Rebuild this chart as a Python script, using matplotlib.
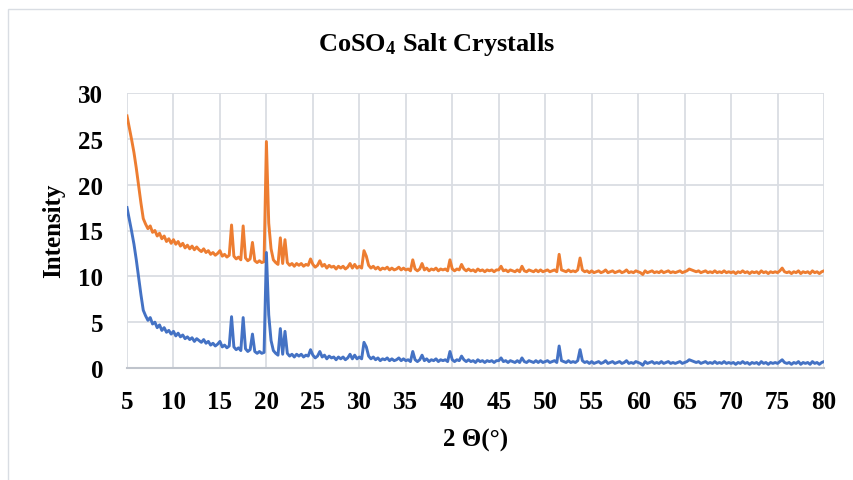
import numpy as np
import matplotlib
matplotlib.use("Agg")
import matplotlib.pyplot as plt
from matplotlib.patches import Rectangle

plt.rcParams["font.family"] = ["Liberation Serif", "DejaVu Serif"]
plt.rcParams["font.weight"] = "bold"
plt.rcParams["mathtext.fontset"] = "custom"
plt.rcParams["mathtext.rm"] = "Liberation Serif:bold"
plt.rcParams["mathtext.it"] = "Liberation Serif:bold"
plt.rcParams["mathtext.bf"] = "Liberation Serif:bold"

# 2-theta grid, 5 to 80 degrees in 0.25 degree steps
two_theta = np.linspace(5, 80, 301)

# lower pattern (blue)
intensity_lower = [
    17.5, 16.2, 14.9, 13.5, 11.8, 9.9, 8.0, 6.3, 5.7, 5.2, 5.5, 4.8, 5.0, 4.4, 4.7, 4.1, 4.4, 3.9, 4.1, 3.7,
    4.0, 3.5, 3.8, 3.4, 3.6, 3.2, 3.4, 3.1, 3.3, 2.9, 3.2, 3.0, 2.8, 3.1, 2.7, 2.9, 2.5, 2.7, 2.4, 2.6,
    2.9, 2.3, 2.5, 2.2, 2.4, 5.6, 2.3, 2.0, 2.2, 1.9, 5.5, 2.1, 1.8, 2.0, 3.7, 1.8, 1.6, 1.8, 1.6, 1.7,
    12.6, 5.8, 3.0, 1.9, 1.6, 1.4, 4.3, 1.5, 4.0, 1.6, 1.3, 1.5, 1.2, 1.5, 1.3, 1.5, 1.2, 1.4, 1.3, 2.0,
    1.4, 1.1, 1.3, 1.8, 1.2, 1.4, 1.0, 1.3, 1.1, 1.2, 0.9, 1.2, 1.0, 1.2, 0.9, 1.1, 1.5, 1.0, 1.4, 1.0,
    1.2, 1.0, 2.8, 2.3, 1.3, 1.0, 1.2, 0.9, 1.1, 0.8, 1.0, 0.9, 1.1, 0.8, 1.0, 0.8, 0.9, 1.1, 0.8, 1.0,
    0.8, 0.9, 0.7, 1.8, 0.9, 0.7, 0.9, 1.4, 0.8, 1.0, 0.7, 0.9, 0.8, 1.0, 0.7, 0.9, 0.8, 0.9, 0.7, 1.8,
    0.9, 0.7, 0.9, 0.8, 1.3, 0.9, 0.7, 0.9, 0.7, 0.8, 0.6, 0.9, 0.7, 0.8, 0.6, 0.8, 0.7, 0.8, 0.6, 0.8,
    0.8, 1.1, 0.7, 0.8, 0.6, 0.8, 0.7, 0.6, 0.8, 0.6, 1.1, 0.7, 0.6, 0.8, 0.7, 0.6, 0.8, 0.6, 0.8, 0.6,
    0.7, 0.8, 0.6, 0.7, 0.8, 0.6, 2.4, 0.8, 0.7, 0.6, 0.8, 0.6, 0.7, 0.6, 0.8, 2.0, 0.8, 0.6, 0.7, 0.5,
    0.7, 0.5, 0.6, 0.7, 0.5, 0.6, 0.8, 0.5, 0.6, 0.7, 0.5, 0.6, 0.7, 0.5, 0.6, 0.8, 0.5, 0.6, 0.5, 0.7,
    0.6, 0.5, 0.3, 0.7, 0.5, 0.6, 0.7, 0.5, 0.6, 0.5, 0.7, 0.5, 0.6, 0.7, 0.5, 0.6, 0.5, 0.6, 0.7, 0.5,
    0.6, 0.7, 0.9, 0.8, 0.7, 0.6, 0.7, 0.5, 0.6, 0.7, 0.5, 0.6, 0.5, 0.7, 0.5, 0.6, 0.5, 0.7, 0.5, 0.6,
    0.5, 0.6, 0.4, 0.6, 0.5, 0.7, 0.5, 0.6, 0.4, 0.6, 0.5, 0.6, 0.4, 0.7, 0.5, 0.6, 0.4, 0.6, 0.5, 0.6,
    0.5, 0.7, 0.9, 0.6, 0.5, 0.6, 0.4, 0.6, 0.5, 0.7, 0.4, 0.6, 0.5, 0.6, 0.4, 0.7, 0.5, 0.6, 0.4, 0.6,
    0.7,
]

# upper pattern (orange)
intensity_upper = [
    27.5, 26.2, 24.9, 23.5, 21.8, 19.9, 18.0, 16.3, 15.7, 15.2, 15.5, 14.8, 15.0, 14.4, 14.7, 14.1, 14.4, 13.8, 14.1, 13.6,
    14.0, 13.5, 13.8, 13.3, 13.6, 13.1, 13.4, 13.0, 13.3, 12.9, 13.2, 12.9, 12.7, 13.0, 12.6, 12.8, 12.4, 12.6, 12.3, 12.5,
    12.8, 12.2, 12.4, 12.1, 12.3, 15.6, 12.2, 11.9, 12.1, 11.8, 15.5, 12.0, 11.7, 11.9, 13.7, 11.7, 11.5, 11.7, 11.5, 11.6,
    24.7, 15.8, 13.0, 11.8, 11.5, 11.3, 14.2, 11.4, 14.0, 11.5, 11.2, 11.4, 11.1, 11.4, 11.2, 11.4, 11.1, 11.3, 11.2, 11.9,
    11.3, 11.0, 11.2, 11.7, 11.1, 11.3, 10.9, 11.2, 11.0, 11.1, 10.8, 11.1, 10.9, 11.1, 10.8, 11.0, 11.4, 10.9, 11.3, 10.9,
    11.1, 10.9, 12.8, 12.2, 11.2, 10.9, 11.1, 10.8, 11.0, 10.7, 10.9, 10.8, 11.0, 10.7, 10.9, 10.7, 10.8, 11.0, 10.7, 10.9,
    10.7, 10.8, 10.6, 11.8, 10.8, 10.6, 10.8, 11.4, 10.7, 10.9, 10.6, 10.8, 10.7, 10.9, 10.6, 10.8, 10.7, 10.8, 10.6, 11.8,
    10.8, 10.6, 10.8, 10.7, 11.3, 10.8, 10.6, 10.8, 10.6, 10.7, 10.5, 10.8, 10.6, 10.7, 10.5, 10.7, 10.6, 10.7, 10.5, 10.7,
    10.7, 11.1, 10.6, 10.7, 10.5, 10.7, 10.6, 10.5, 10.7, 10.5, 11.1, 10.6, 10.5, 10.7, 10.6, 10.5, 10.7, 10.5, 10.7, 10.5,
    10.6, 10.7, 10.5, 10.6, 10.7, 10.5, 12.4, 10.7, 10.6, 10.5, 10.7, 10.5, 10.6, 10.5, 10.7, 12.0, 10.7, 10.5, 10.6, 10.4,
    10.6, 10.4, 10.5, 10.6, 10.4, 10.5, 10.7, 10.4, 10.5, 10.6, 10.4, 10.5, 10.6, 10.4, 10.5, 10.7, 10.4, 10.5, 10.4, 10.6,
    10.5, 10.4, 10.2, 10.6, 10.4, 10.5, 10.6, 10.4, 10.5, 10.4, 10.6, 10.4, 10.5, 10.6, 10.4, 10.5, 10.4, 10.5, 10.6, 10.4,
    10.5, 10.6, 10.8, 10.7, 10.6, 10.5, 10.6, 10.4, 10.5, 10.6, 10.4, 10.5, 10.4, 10.6, 10.4, 10.5, 10.4, 10.6, 10.4, 10.5,
    10.4, 10.5, 10.3, 10.5, 10.4, 10.6, 10.4, 10.5, 10.3, 10.5, 10.4, 10.5, 10.3, 10.6, 10.4, 10.5, 10.3, 10.5, 10.4, 10.5,
    10.4, 10.6, 10.9, 10.5, 10.4, 10.5, 10.3, 10.5, 10.4, 10.6, 10.3, 10.5, 10.4, 10.5, 10.3, 10.6, 10.4, 10.5, 10.3, 10.5,
    10.6,
]

x_ticks = [5, 10, 15, 20, 25, 30, 35, 40, 45, 50, 55, 60, 65, 70, 75, 80]
y_ticks = [0, 5, 10, 15, 20, 25, 30]

W, H = 854, 481
fig = plt.figure(figsize=(W / 100, H / 100), dpi=100)
fig.patch.set_facecolor("white")

# chart frame
fig.patches.append(Rectangle((8 / W, -0.1), 1.2, 1 - 10 / H + 0.1,
                             transform=fig.transFigure, fill=False,
                             edgecolor="#D9DDE3", linewidth=1.0))

ax = fig.add_axes([127 / W, 1 - 369 / H, (824 - 127) / W, (369 - 94) / H])
ax.plot(two_theta, intensity_upper, color="#ED7D31", linewidth=2.1,
        solid_joinstyle="round", zorder=3)
ax.plot(two_theta, intensity_lower, color="#4472C4", linewidth=2.1,
        solid_joinstyle="round", zorder=4)

ax.set_xlim(5, 80)
ax.set_ylim(0, 30)
ax.set_xticks(x_ticks)
ax.set_yticks(y_ticks)
ax.grid(True, color="#DADDE3", linewidth=1.3, zorder=0)
ax.set_axisbelow(True)
for s in ["top", "right"]:
    ax.spines[s].set_visible(False)
ax.spines["left"].set_visible(False)
ax.spines["bottom"].set_color("#BFC4CC")
ax.spines["bottom"].set_linewidth(1.5)
ax.tick_params(axis="both", length=0, labelsize=18)
ax.tick_params(axis="x", pad=16)
ax.tick_params(axis="y", pad=17)
for lab in ax.get_xticklabels() + ax.get_yticklabels():
    lab.set_fontweight("bold")

fig.text(437 / W, 1 - 45 / H, "CoSO$_4$ Salt Crystalls", ha="center", va="center",
         fontsize=19, fontweight="bold")
fig.text(476 / W, 1 - 440 / H, "2 Θ(°)", ha="center", va="center",
         fontsize=18, fontweight="bold")
fig.text(54 / W, 1 - 231 / H, "Intensity", ha="center", va="center",
         rotation=90, fontsize=18, fontweight="bold")

fig.savefig("out.png", dpi=100)
